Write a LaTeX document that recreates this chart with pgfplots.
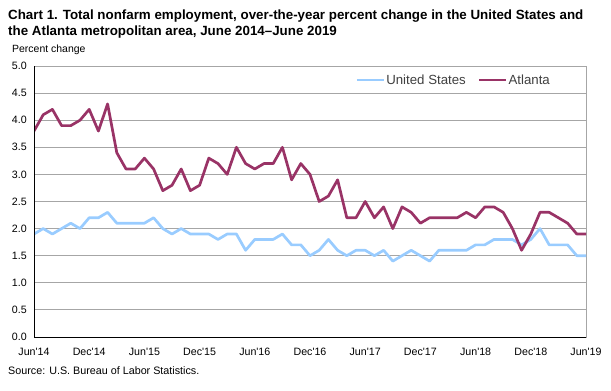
\documentclass[border=0pt]{standalone}
\usepackage{fontspec}
\setmainfont{Liberation Sans}
\usepackage{pgfplots}
\pgfplotsset{compat=1.18}
\definecolor{usblue}{HTML}{99CCFF}
\definecolor{atl}{HTML}{993366}
\definecolor{gridgray}{HTML}{A6A6A6}
\definecolor{legtext}{HTML}{404040}
\begin{document}
\begin{tikzpicture}[x=1bp,y=1bp]
\useasboundingbox (0,0) rectangle (611,390);
\node[anchor=base west, font=\fontsize{13.4}{15}\selectfont\bfseries, inner sep=0] at (8,371) {Chart 1. Total nonfarm employment, over-the-year percent change in the United States and};
\node[anchor=base west, font=\fontsize{13.4}{15}\selectfont\bfseries, inner sep=0] at (8,355) {the Atlanta metropolitan area, June 2014--June 2019};
\node[anchor=base west, font=\fontsize{10.5}{12}\selectfont, inner sep=0] at (12,338) {Percent change};
\node[anchor=base west, font=\fontsize{10.8}{12}\selectfont, inner sep=0] at (8,16) {Source: U.S. Bureau of Labor Statistics.};
\begin{axis}[
  at={(34bp,53bp)}, anchor=south west,
  scale only axis, width=552bp, height=271bp,
  xmin=0, xmax=60, ymin=0, ymax=5,
  ytick={0,0.5,1,1.5,2,2.5,3,3.5,4,4.5,5},
  xtick={0,6,12,18,24,30,36,42,48,54,60},
  xticklabels={Jun\textquotesingle14,Dec\textquotesingle14,Jun\textquotesingle15,Dec\textquotesingle15,Jun\textquotesingle16,Dec\textquotesingle16,Jun\textquotesingle17,Dec\textquotesingle17,Jun\textquotesingle18,Dec\textquotesingle18,Jun\textquotesingle19},
  major tick length=0,
  /pgf/number format/fixed,
  /pgf/number format/fixed zerofill,
  /pgf/number format/precision=1,
  /pgf/number format/assume math mode=true,
  ymajorgrids, major grid style={gridgray, line width=0.9bp},
  axis line style={gridgray, line width=0.9bp},
  xticklabel style={font=\fontsize{10.7}{12}\selectfont, inner sep=0, anchor=base, yshift=-18bp},
  yticklabel style={font=\fontsize{10.7}{12}\selectfont, inner sep=0, anchor=east, xshift=-7bp},
  legend columns=2,
  legend image code/.code={\draw[#1] (0bp,0bp) -- (27bp,0bp);},
  legend style={draw=none, fill=none, at={(0.9366,0.948)}, anchor=east, inner sep=0,
    font=\fontsize{13.3}{15}\selectfont, text=legtext,
    nodes={inner sep=1bp, anchor=west},
    /tikz/every even column/.append style={column sep=11bp}},
]
\addplot[usblue, line width=2.7bp, line join=round] coordinates {
(0,1.9)(1,2.0)(2,1.9)(3,2.0)(4,2.1)(5,2.0)(6,2.2)(7,2.2)(8,2.3)(9,2.1)
(10,2.1)(11,2.1)(12,2.1)(13,2.2)(14,2.0)(15,1.9)(16,2.0)(17,1.9)(18,1.9)(19,1.9)
(20,1.8)(21,1.9)(22,1.9)(23,1.6)(24,1.8)(25,1.8)(26,1.8)(27,1.9)(28,1.7)(29,1.7)
(30,1.5)(31,1.6)(32,1.8)(33,1.6)(34,1.5)(35,1.6)(36,1.6)(37,1.5)(38,1.6)(39,1.4)
(40,1.5)(41,1.6)(42,1.5)(43,1.4)(44,1.6)(45,1.6)(46,1.6)(47,1.6)(48,1.7)(49,1.7)
(50,1.8)(51,1.8)(52,1.8)(53,1.7)(54,1.8)(55,2.0)(56,1.7)(57,1.7)(58,1.7)(59,1.5)
(60,1.5)};
\addlegendentry{United States}
\addplot[atl, line width=2.7bp, line join=round] coordinates {
(0,3.8)(1,4.1)(2,4.2)(3,3.9)(4,3.9)(5,4.0)(6,4.2)(7,3.8)(8,4.3)(9,3.4)
(10,3.1)(11,3.1)(12,3.3)(13,3.1)(14,2.7)(15,2.8)(16,3.1)(17,2.7)(18,2.8)(19,3.3)
(20,3.2)(21,3.0)(22,3.5)(23,3.2)(24,3.1)(25,3.2)(26,3.2)(27,3.5)(28,2.9)(29,3.2)
(30,3.0)(31,2.5)(32,2.6)(33,2.9)(34,2.2)(35,2.2)(36,2.5)(37,2.2)(38,2.4)(39,2.0)
(40,2.4)(41,2.3)(42,2.1)(43,2.2)(44,2.2)(45,2.2)(46,2.2)(47,2.3)(48,2.2)(49,2.4)
(50,2.4)(51,2.3)(52,2.0)(53,1.6)(54,1.9)(55,2.3)(56,2.3)(57,2.2)(58,2.1)(59,1.9)
(60,1.9)};
\addlegendentry{Atlanta}
\draw[black, line width=0.9bp] (rel axis cs:0,1) -- (rel axis cs:0,0) -- (rel axis cs:1,0);
\end{axis}
\end{tikzpicture}
\end{document}
